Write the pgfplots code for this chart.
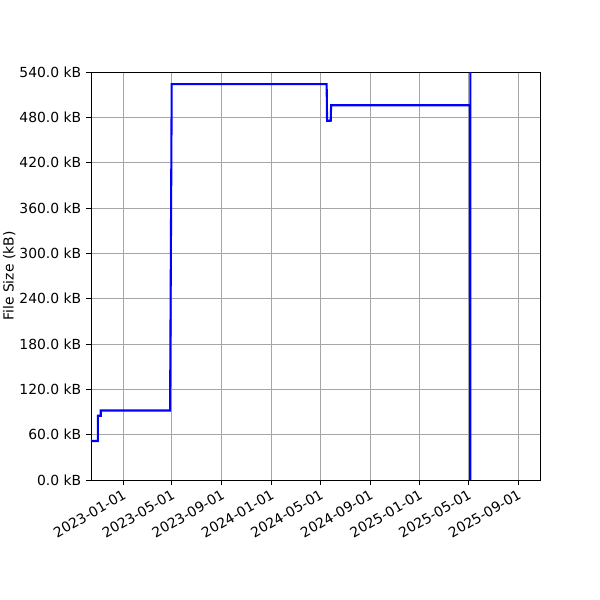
\documentclass[border=0pt]{standalone}
\usepackage{fontspec}
\setmainfont{DejaVu Sans}
\usepackage{pgfplots}
\pgfplotsset{compat=1.18}

% x = days since 2023-01-01
\begin{document}
\begin{tikzpicture}
\useasboundingbox (-65.52pt,-86.4pt) rectangle (366.48pt,345.6pt);
\begin{axis}[
  at={(0,0)}, anchor=south west,
  scale only axis,
  width=323.28pt, height=293.76pt,
  xmin=-79, xmax=1028,
  ymin=0, ymax=540,
  axis line style={black, line width=0.6pt},
  grid=major,
  major grid style={gray!70, line width=0.6pt},
  tick style={black, line width=0.6pt},
  tick align=outside,
  xtick pos=bottom, ytick pos=left,
  major tick length=3.5pt,
  xtick={0,120,243,365,486,609,731,851,974},
  xticklabels={2023-01-01,2023-05-01,2023-09-01,2024-01-01,2024-05-01,2024-09-01,2025-01-01,2025-05-01,2025-09-01},
  xticklabel style={rotate=30, anchor=north east, inner sep=2pt, font=\fontsize{10}{12}\selectfont},
  ytick={0,60,120,180,240,300,360,420,480,540},
  yticklabels={0.0 kB,60.0 kB,120.0 kB,180.0 kB,240.0 kB,300.0 kB,360.0 kB,420.0 kB,480.0 kB,540.0 kB},
  yticklabel style={font=\fontsize{10}{12}\selectfont},
  ylabel={File Size (kB)},
  ylabel shift=-4pt,
  ylabel style={font=\fontsize{10}{12}\selectfont},
  clip=true,
]
\addplot[blue, line width=1.5pt] coordinates {
  (-79,51.6)
  (-62,51.6)
  (-62,85)
  (-55,85)
  (-55,92)
  (116,92)
  (120,524)
  (502,524)
  (503,475.5)
  (512,475.5)
  (513,496)
  (855,496)
  (856,0)
  (857,2000)
};
\end{axis}
\end{tikzpicture}
\end{document}
